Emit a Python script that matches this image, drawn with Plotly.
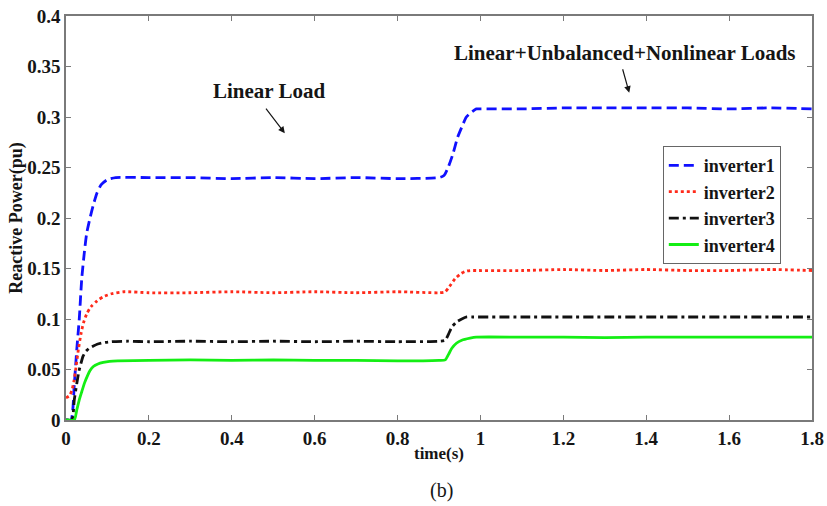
import plotly.graph_objects as go

# Time samples (s) and reactive power (pu) for each inverter
t_inv1 = [0.0, 0.012, 0.02, 0.026, 0.032, 0.038, 0.044, 0.05, 0.058, 0.066, 0.075, 0.085, 0.1, 0.12, 0.2, 0.3, 0.4,
          0.5, 0.6, 0.7, 0.8, 0.9, 0.912, 0.922, 0.934, 0.945, 0.955, 0.966, 0.979, 0.99, 1.0, 1.1, 1.2, 1.3, 1.4,
          1.5, 1.6, 1.7, 1.8]
q_inv1 = [0.0, 0.0, 0.035, 0.07, 0.1, 0.14, 0.165, 0.185, 0.2, 0.213, 0.225, 0.233, 0.238, 0.24, 0.24, 0.24, 0.239,
          0.24, 0.239, 0.24, 0.239, 0.24, 0.242, 0.25, 0.264, 0.28, 0.29, 0.3, 0.305, 0.308, 0.308, 0.308, 0.309,
          0.309, 0.309, 0.309, 0.308, 0.309, 0.308]

t_inv2 = [0.0, 0.008, 0.014, 0.019, 0.024, 0.03, 0.036, 0.042, 0.05, 0.06, 0.075, 0.09, 0.11, 0.14, 0.2, 0.3, 0.4,
          0.5, 0.6, 0.7, 0.8, 0.9, 0.915, 0.925, 0.939, 0.95, 0.962, 0.975, 0.99, 1.1, 1.2, 1.3, 1.4, 1.5, 1.6,
          1.7, 1.8]
q_inv2 = [0.022, 0.024, 0.029, 0.038, 0.052, 0.07, 0.085, 0.096, 0.105, 0.112, 0.118, 0.122, 0.125, 0.127, 0.126,
          0.126, 0.127, 0.126, 0.127, 0.126, 0.127, 0.126, 0.127, 0.132, 0.14, 0.144, 0.147, 0.148, 0.148, 0.148,
          0.149, 0.148, 0.149, 0.148, 0.148, 0.149, 0.148]

t_inv3 = [0.0, 0.014, 0.02, 0.026, 0.031, 0.036, 0.041, 0.048, 0.056, 0.065, 0.075, 0.09, 0.11, 0.15, 0.2, 0.3,
          0.4, 0.5, 0.6, 0.7, 0.8, 0.9, 0.915, 0.923, 0.931, 0.942, 0.955, 0.967, 0.98, 1.1, 1.2, 1.3, 1.4, 1.5,
          1.6, 1.7, 1.8]
q_inv3 = [0.0, 0.0, 0.02, 0.036, 0.048, 0.056, 0.063, 0.068, 0.071, 0.073, 0.075, 0.0765, 0.0775, 0.078, 0.0775,
          0.078, 0.0775, 0.078, 0.0775, 0.078, 0.0775, 0.078, 0.079, 0.085, 0.092, 0.097, 0.1, 0.102, 0.102, 0.102,
          0.102, 0.102, 0.102, 0.102, 0.102, 0.102, 0.102]

t_inv4 = [0.0, 0.02, 0.026, 0.032, 0.038, 0.045, 0.052, 0.058, 0.066, 0.077, 0.09, 0.105, 0.125, 0.2, 0.3, 0.4,
          0.5, 0.6, 0.7, 0.8, 0.9, 0.915, 0.923, 0.931, 0.942, 0.955, 0.975, 0.99, 1.1, 1.2, 1.3, 1.4, 1.5, 1.6,
          1.7, 1.8]
q_inv4 = [0.0, 0.0, 0.01, 0.02, 0.028, 0.037, 0.044, 0.049, 0.053, 0.0555, 0.057, 0.058, 0.0585, 0.059, 0.0595,
          0.059, 0.0595, 0.059, 0.059, 0.0585, 0.059, 0.0595, 0.065, 0.071, 0.076, 0.079, 0.081, 0.082, 0.082,
          0.082, 0.0815, 0.082, 0.082, 0.082, 0.082, 0.082]

series_names = ["inverter1", "inverter2", "inverter3", "inverter4"]
series_colors = ["#1010ff", "#ff2a1a", "#111111", "#14ee14"]
series_dash = ["10px,5px", "3px,3px", "10px,4px,3px,4px", "solid"]

x_ticks = [0, 0.2, 0.4, 0.6, 0.8, 1, 1.2, 1.4, 1.6, 1.8]
x_tick_text = ["0", "0.2", "0.4", "0.6", "0.8", "1", "1.2", "1.4", "1.6", "1.8"]
y_ticks = [0, 0.05, 0.1, 0.15, 0.2, 0.25, 0.3, 0.35, 0.4]
y_tick_text = ["0", "0.05", "0.1", "0.15", "0.2", "0.25", "0.3", "0.35", "0.4"]

SERIF = "Liberation Serif, Times New Roman, serif"
INK = "#151515"

fig = go.Figure()
for t, q, name, color, dash in zip([t_inv1, t_inv2, t_inv3, t_inv4],
                                   [q_inv1, q_inv2, q_inv3, q_inv4],
                                   series_names, series_colors, series_dash):
    fig.add_trace(go.Scatter(
        x=t, y=q, mode="lines", name=name,
        line=dict(color=color, width=2.8, dash=dash, shape="spline", smoothing=0.6),
    ))

axis_common = dict(
    showgrid=False, zeroline=False, showline=True, mirror="ticks", automargin=False,
    linecolor="#7a7a7a", linewidth=1.5, ticks="inside", ticklen=5,
    tickcolor="#7a7a7a", tickwidth=1,
    tickfont=dict(family=SERIF, size=19, color=INK, weight="bold"),
)

fig.update_layout(
    width=827, height=506,
    margin=dict(l=66, r=15, t=16, b=86),
    paper_bgcolor="white", plot_bgcolor="white",
    showlegend=True,
    legend=dict(
        x=0.80, y=0.678, xanchor="left", yanchor="top",
        bgcolor="white", bordercolor="#666666", borderwidth=1,
        font=dict(family=SERIF, size=18, color=INK, weight="bold"),
        tracegroupgap=0, itemwidth=30,
    ),
    xaxis=dict(
        range=[0, 1.8], tickvals=x_ticks, ticktext=x_tick_text,
        title=dict(text="time(s)", font=dict(family=SERIF, size=17, color=INK, weight="bold"), standoff=0),
        **axis_common,
    ),
    yaxis=dict(
        range=[0, 0.4], tickvals=y_ticks, ticktext=y_tick_text,
        title=dict(text="Reactive Power(pu)", font=dict(family=SERIF, size=18, color=INK, weight="bold"),
                   standoff=0),
        **axis_common,
    ),
)

label_font = dict(family=SERIF, size=21, color=INK, weight="bold")

# Load-condition labels
fig.add_annotation(x=0.492, y=0.326, xref="x", yref="y", text="Linear Load",
                   showarrow=False, font=label_font)
fig.add_annotation(x=1.349, y=0.363, xref="x", yref="y", text="Linear+Unbalanced+Nonlinear Loads",
                   showarrow=False, font=label_font)

# Arrows pointing from each label to the curves
fig.add_annotation(x=0.528, y=0.284, xref="x", yref="y", ax=-20, ay=-26, text="",
                   showarrow=True, arrowhead=2, arrowsize=1.1, arrowwidth=1.2, arrowcolor=INK)
fig.add_annotation(x=1.359, y=0.324, xref="x", yref="y", ax=-7, ay=-25, text="",
                   showarrow=True, arrowhead=2, arrowsize=1.1, arrowwidth=1.2, arrowcolor=INK)

# Sub-figure caption
fig.add_annotation(x=0.5, y=-70 / 404, xref="paper", yref="paper", xshift=2,
                   xanchor="center", yanchor="middle",
                   text="(b)", showarrow=False, font=dict(family=SERIF, size=20, color=INK))

fig.write_html("out.html")
